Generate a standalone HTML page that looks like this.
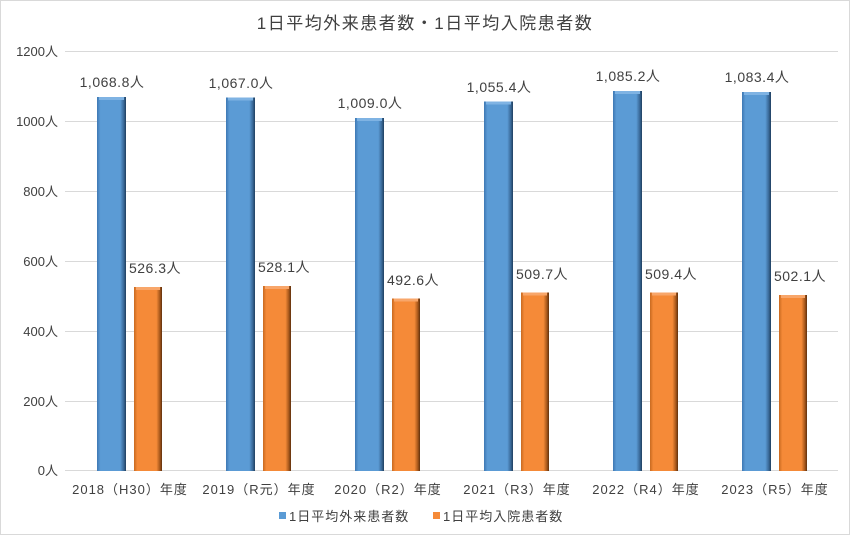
<!DOCTYPE html>
<html><head><meta charset="utf-8"><style>
html,body{margin:0;padding:0;background:#fff}
svg{display:block}
text{font-family:"Liberation Sans","Noto Sans CJK JP",sans-serif;fill:#404040}
</style></head><body>
<svg width="850" height="535" viewBox="0 0 850 535" xmlns="http://www.w3.org/2000/svg">
<defs>
<linearGradient id="gb" x1="0" x2="1" y1="0" y2="0">
<stop offset="0" stop-color="#3e78b3"/><stop offset="0.12" stop-color="#5b9bd5"/><stop offset="0.8" stop-color="#5b9bd5"/><stop offset="0.92" stop-color="#3a6a99"/><stop offset="1" stop-color="#1f3f5f"/></linearGradient>
<linearGradient id="go" x1="0" x2="1" y1="0" y2="0">
<stop offset="0" stop-color="#c86a20"/><stop offset="0.12" stop-color="#f58a38"/><stop offset="0.8" stop-color="#f58a38"/><stop offset="0.92" stop-color="#a8581c"/><stop offset="1" stop-color="#5f300c"/></linearGradient>
</defs>
<rect x="0.5" y="0.5" width="849" height="534" fill="#fff" stroke="#d9d9d9"/>
<text x="425" y="29" font-size="17" text-anchor="middle" fill="#595959" letter-spacing="1.5">1日平均外来患者数・1日平均入院患者数</text>
<g stroke="#d9d9d9" stroke-width="1">
<line x1="65" x2="838" y1="51.5" y2="51.5"/><line x1="65" x2="838" y1="121.5" y2="121.5"/><line x1="65" x2="838" y1="191.5" y2="191.5"/><line x1="65" x2="838" y1="261.5" y2="261.5"/><line x1="65" x2="838" y1="331.5" y2="331.5"/><line x1="65" x2="838" y1="401.5" y2="401.5"/><line x1="65" x2="838" y1="470.5" y2="470.5"/>
</g>
<g font-size="13" text-anchor="end" fill="#595959">
<text x="58" y="56">1200人</text><text x="58" y="126">1000人</text><text x="58" y="196">800人</text><text x="58" y="266">600人</text><text x="58" y="336">400人</text><text x="58" y="406">200人</text><text x="58" y="475">0人</text>
</g>
<g>
<rect x="97" y="97" width="29" height="374" fill="url(#gb)"/><rect x="99" y="97" width="25" height="3" fill="#7fb3e3"/>
<rect x="226" y="97.5" width="29" height="373.5" fill="url(#gb)"/><rect x="228" y="97.5" width="25" height="3" fill="#7fb3e3"/>
<rect x="355" y="118" width="29" height="353" fill="url(#gb)"/><rect x="357" y="118" width="25" height="3" fill="#7fb3e3"/>
<rect x="484" y="101.5" width="29" height="369.5" fill="url(#gb)"/><rect x="486" y="101.5" width="25" height="3" fill="#7fb3e3"/>
<rect x="613" y="91" width="29" height="380" fill="url(#gb)"/><rect x="615" y="91" width="25" height="3" fill="#7fb3e3"/>
<rect x="742" y="92" width="29" height="379" fill="url(#gb)"/><rect x="744" y="92" width="25" height="3" fill="#7fb3e3"/>

<rect x="134" y="287" width="28" height="184" fill="url(#go)"/><rect x="136" y="287" width="24" height="3" fill="#f8a66a"/>
<rect x="263" y="286" width="28" height="185" fill="url(#go)"/><rect x="265" y="286" width="24" height="3" fill="#f8a66a"/>
<rect x="392" y="298.5" width="28" height="172.5" fill="url(#go)"/><rect x="394" y="298.5" width="24" height="3" fill="#f8a66a"/>
<rect x="521" y="292.5" width="28" height="178.5" fill="url(#go)"/><rect x="523" y="292.5" width="24" height="3" fill="#f8a66a"/>
<rect x="650" y="292.5" width="28" height="178.5" fill="url(#go)"/><rect x="652" y="292.5" width="24" height="3" fill="#f8a66a"/>
<rect x="779" y="295" width="28" height="176" fill="url(#go)"/><rect x="781" y="295" width="24" height="3" fill="#f8a66a"/>
</g>
<g font-size="14" text-anchor="middle" letter-spacing="0.5">
<text x="112" y="87">1,068.8人</text><text x="241" y="88">1,067.0人</text><text x="370" y="108">1,009.0人</text><text x="499" y="92">1,055.4人</text><text x="628" y="81">1,085.2人</text><text x="757" y="82">1,083.4人</text>
<text x="155" y="273">526.3人</text><text x="284" y="272">528.1人</text><text x="413" y="285">492.6人</text><text x="542" y="279">509.7人</text><text x="671" y="279">509.4人</text><text x="800" y="281">502.1人</text>
</g>
<g font-size="13" text-anchor="middle" letter-spacing="1">
<text x="130" y="494">2018（H30）年度</text><text x="259" y="494">2019（R元）年度</text><text x="388" y="494">2020（R2）年度</text><text x="517" y="494">2021（R3）年度</text><text x="646" y="494">2022（R4）年度</text><text x="775" y="494">2023（R5）年度</text>
</g>
<rect x="279" y="512" width="7" height="7" fill="#5b9bd5"/>
<text x="289" y="521" font-size="13" letter-spacing="1">1日平均外来患者数</text>
<rect x="433" y="512" width="7" height="7" fill="#f58a38"/>
<text x="443" y="521" font-size="13" letter-spacing="1">1日平均入院患者数</text>
</svg>
</body></html>
